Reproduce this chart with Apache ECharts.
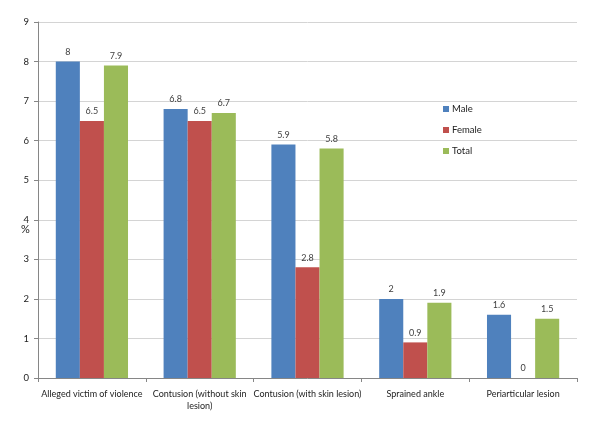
<!DOCTYPE html>
<html><head><meta charset="utf-8">
<script src="https://cdn.jsdelivr.net/npm/echarts@6/dist/echarts.min.js"></script>
<style>html,body{margin:0;padding:0;background:#fff}#c{width:600px;height:422px}</style>
</head><body><div id="c"></div>
<script>
const categories = ["Alleged victim of violence", "Contusion (without skin\nlesion)", "Contusion (with skin lesion)", "Sprained ankle", "Periarticular lesion"];
const male = [8, 6.8, 5.9, 2, 1.6];
const female = [6.5, 6.5, 2.8, 0.9, 0];
const total = [7.9, 6.7, 5.8, 1.9, 1.5];
const seriesNames = ["Male", "Female", "Total"];
const colors = ["#4F81BD", "#C0504D", "#9BBB59"];
const font = "Lato, 'Open Sans', sans-serif";
const chart = echarts.init(document.getElementById('c'));
const lbl = {show: true, position: 'top', fontSize: 9, color: '#404040', fontFamily: font, distance: 5};
chart.setOption({
  animation: false,
  textStyle: {fontFamily: font},
  grid: {left: 38, right: 23, top: 22, bottom: 44},
  legend: {
    orient: 'vertical', left: 438, top: 99, itemWidth: 6, itemHeight: 6, itemGap: 11,
    icon: 'rect', textStyle: {fontSize: 9.5, color: '#222', fontFamily: font, padding: [0, 0, 0, -2]},
    data: seriesNames
  },
  graphic: [{type: 'text', left: 21, top: 224, style: {text: '%', fontSize: 11, fill: '#222', fontFamily: font}}],
  xAxis: {
    type: 'category', data: categories,
    axisLine: {lineStyle: {color: '#868686'}},
    axisTick: {show: true, length: 4, lineStyle: {color: '#868686'}},
    axisLabel: {fontSize: 9, color: '#222', margin: 10, lineHeight: 12, interval: 0, fontFamily: font}
  },
  yAxis: {
    type: 'value', min: 0, max: 9, interval: 1,
    axisLine: {show: true, lineStyle: {color: '#868686'}},
    axisTick: {show: true, length: 4, lineStyle: {color: '#868686'}},
    splitLine: {lineStyle: {color: '#d4d4d4'}},
    axisLabel: {fontSize: 9.5, color: '#222', margin: 9, fontFamily: font}
  },
  series: [male, female, total].map((d, i) => ({
    name: seriesNames[i], type: 'bar', data: d,
    itemStyle: {color: colors[i]},
    barGap: '0%', barCategoryGap: '33%',
    label: lbl
  }))
});
</script></body></html>
